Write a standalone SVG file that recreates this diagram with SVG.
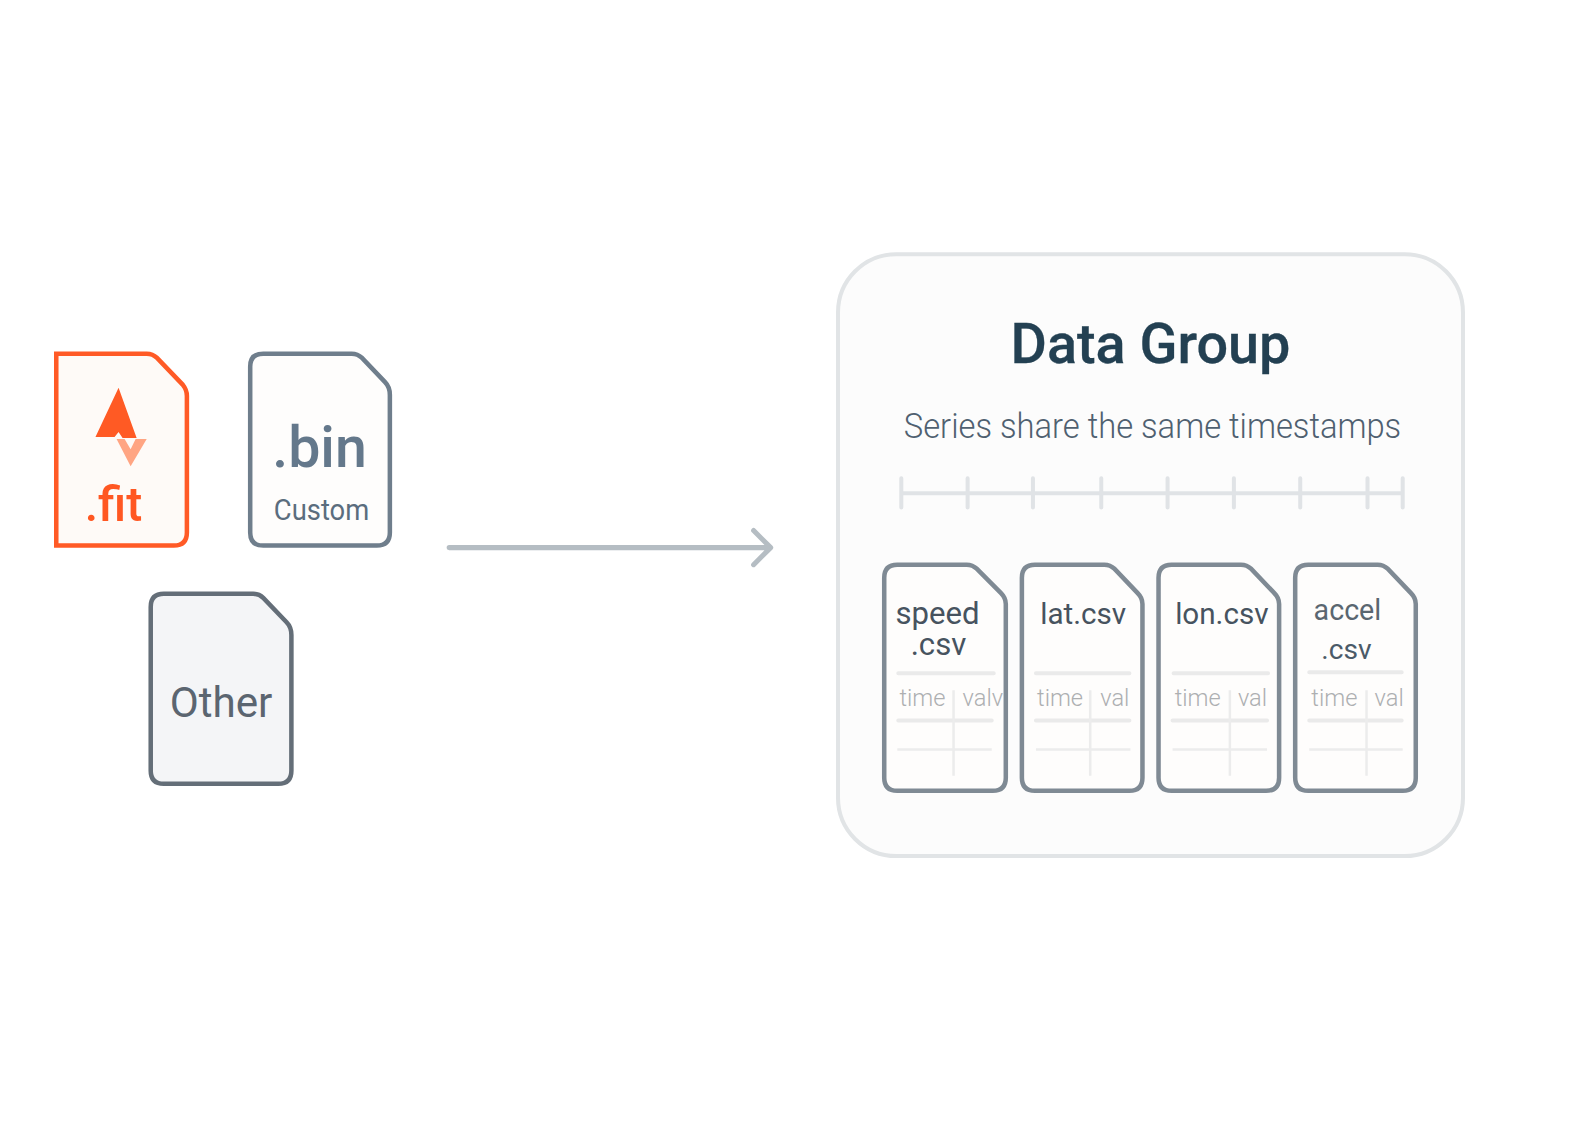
<svg xmlns="http://www.w3.org/2000/svg" width="1576" height="1146" viewBox="0 0 1576 1146">
<style>
text{font-family:Roboto,"Liberation Sans",sans-serif}
.csvdoc{fill:#fefdfc;stroke:#7f8a94;stroke-width:4.5}
.rule{stroke:#eaeaea;stroke-width:4;stroke-linecap:round;fill:none}
.thin{stroke:#ececec;stroke-width:2.5;fill:none}
.name{font-size:31px;fill:#47535f}
.short{font-size:29.5px}
.cell{font-size:23.5px;fill:#adafb1;font-weight:300}
.tick{stroke:#e0e3e6;stroke-width:4;stroke-linecap:round;fill:none}
</style>
<rect width="1576" height="1146" fill="#fff"/>
<g transform="scale(1.0048)">
<g id="node-fit">
<path d="M56 352H146Q152 352 156 356L182 383Q186 388 186 394V530Q186 543 173 543H56Z" fill="#fefaf7" stroke="#ff5a26" stroke-width="4.5"/>
<path d="M118 386L95 435H114L118 430L122 436H136Z" fill="#ff5a24"/>
<path d="M116 437L130 464L146 437L135 437L130 447L124 437Z" fill="#ffa583"/>
<text x="113" y="519" text-anchor="middle" font-size="48" font-weight="500" fill="#ff5722">.fit</text>
</g>
<g id="node-bin">
<path d="M262 352H350Q356 352 360 356L383 380Q388 385 388 393V530Q388 543 375 543H262Q249 543 249 530V365Q249 352 262 352Z" fill="#fefdfc" stroke="#6f7e8c" stroke-width="4.5"/>
<text x="318" y="465" text-anchor="middle" font-size="57" font-weight="500" fill="#64788b">.bin</text>
<text x="320" y="518" text-anchor="middle" font-size="29" fill="#5b6d7e" textLength="95" lengthAdjust="spacingAndGlyphs">Custom</text>
</g>
<g id="node-other">
<path d="M163 591H252Q258 591 262 595L285 619Q290 624 290 632V767Q290 780 277 780H163Q150 780 150 767V604Q150 591 163 591Z" fill="#f4f5f7" stroke="#646e78" stroke-width="4.5"/>
<text x="220" y="714" text-anchor="middle" font-size="42" fill="#5b6570">Other</text>
</g>
<g id="connectors">
<path d="M447 545H765M750 528L767 545L750 562" fill="none" stroke="#b5bdc3" stroke-width="5" stroke-linecap="round" stroke-linejoin="round"/>
</g>
<g id="node-group">
<rect x="834" y="253" width="622" height="599" rx="58" fill="#fcfcfc" stroke="#e1e4e6" stroke-width="4"/>
<text x="1145" y="361" text-anchor="middle" font-size="55.5" font-weight="500" fill="#234052" stroke="#234052" stroke-width=".3">Data Group</text>
<text x="1147" y="436" text-anchor="middle" font-size="34.5" font-weight="300" fill="#4f6070" textLength="495" lengthAdjust="spacingAndGlyphs">Series share the same timestamps</text>
<path class="tick" d="M897 491H1396M897 476V505M963 476V505M1028 476V505M1096 476V505M1162 476V505M1228 476V505M1294 476V505M1361 476V505M1396 476V505"/>
</g>
<g id="node-speed">
<path class="csvdoc" d="M893 562H962Q968 562 972 566L996 590Q1001 595 1001 601V774Q1001 787 988 787H893Q880 787 880 774V575Q880 562 893 562Z"/>
<text class="name" text-anchor="middle"><tspan x="933" y="621">speed</tspan><tspan x="934" y="652">.csv</tspan></text>
<path class="rule" d="M894 670H989M894 717H987"/>
<path class="thin" d="M893 746H987M949 687V772"/>
<text class="cell" x="918" y="703" text-anchor="middle">time</text>
<text class="cell" x="958" y="703">valv</text>
</g>
<g id="node-lat">
<path class="csvdoc" d="M1030 562H1099Q1105 562 1109 566L1132 590Q1137 595 1137 601V774Q1137 787 1124 787H1030Q1017 787 1017 774V575Q1017 562 1030 562Z"/>
<text class="name short" x="1078" y="621" text-anchor="middle">lat.csv</text>
<path class="rule" d="M1031 670H1124M1031 717H1124"/>
<path class="thin" d="M1031 746H1125M1085 687V772"/>
<text class="cell" x="1055" y="703" text-anchor="middle">time</text>
<text class="cell" x="1095" y="703">val</text>
</g>
<g id="node-lon">
<path class="csvdoc" d="M1166 562H1235Q1241 562 1245 566L1268 590Q1273 595 1273 601V774Q1273 787 1260 787H1166Q1153 787 1153 774V575Q1153 562 1166 562Z"/>
<text class="name short" x="1216" y="621" text-anchor="middle">lon.csv</text>
<path class="rule" d="M1168 670H1262M1167 717H1261"/>
<path class="thin" d="M1167 746H1261M1224 687V772"/>
<text class="cell" x="1192" y="703" text-anchor="middle">time</text>
<text class="cell" x="1232" y="703">val</text>
</g>
<g id="node-accel">
<path class="csvdoc" d="M1302 562H1371Q1377 562 1381 566L1404 590Q1409 595 1409 601V774Q1409 787 1396 787H1302Q1289 787 1289 774V575Q1289 562 1302 562Z"/>
<text x="1341" y="617" text-anchor="middle" font-size="28.5" fill="#5a6670">accel</text>
<text x="1340" y="656" text-anchor="middle" font-size="28" fill="#4b5a68">.csv</text>
<path class="rule" d="M1303 669H1395M1303 717H1395"/>
<path class="thin" d="M1303 746H1396M1360 687V772"/>
<text class="cell" x="1328" y="703" text-anchor="middle">time</text>
<text class="cell" x="1368" y="703">val</text>
</g>
</g>
</svg>
